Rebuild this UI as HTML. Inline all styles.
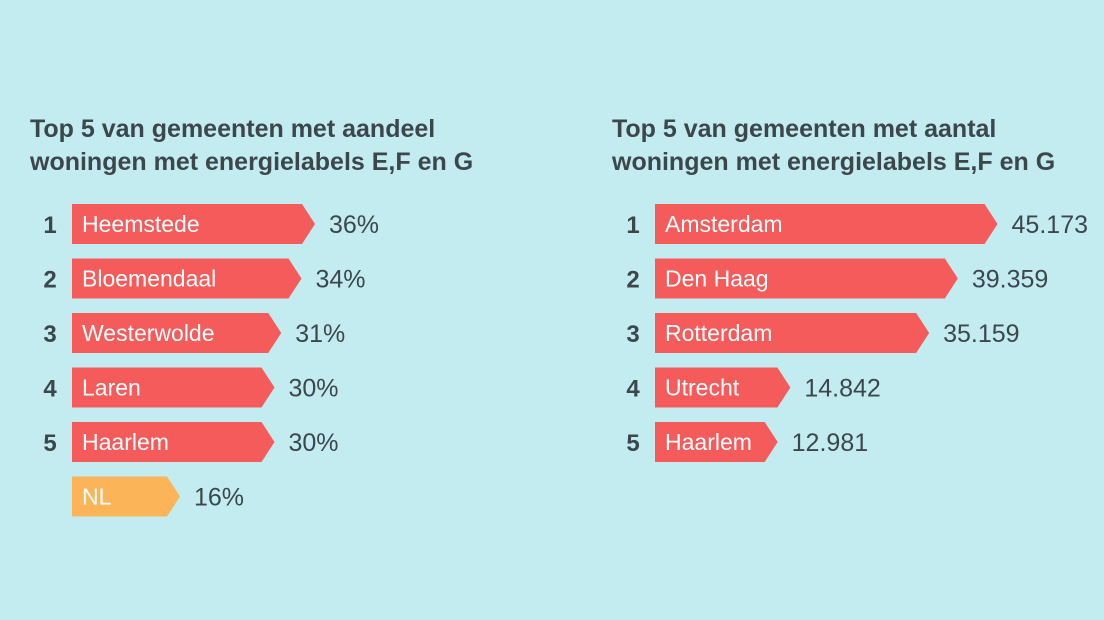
<!DOCTYPE html>
<html><head><meta charset="utf-8">
<style>
body{margin:0;width:1104px;height:620px;background:#c3ecf0;font-family:"Liberation Sans",sans-serif;overflow:hidden}
.t{position:absolute;font-weight:bold;font-size:25px;line-height:33px;color:#3c474c;white-space:nowrap}
svg{position:absolute;left:0;top:0}
</style></head><body>
<div class="t" style="left:30px;top:113px">Top 5 van gemeenten met aandeel<br>woningen met energielabels E,F en G</div>
<div class="t" style="left:612px;top:113px">Top 5 van gemeenten met aantal<br>woningen met energielabels E,F en G</div>
<svg width="1104" height="620" id="c"></svg>
<script>
const leftNames=["Heemstede","Bloemendaal","Westerwolde","Laren","Haarlem","NL"];
const leftValues=[36,34,31,30,30,16];
const leftLabels=["36%","34%","31%","30%","30%","16%"];
const leftRanks=["1","2","3","4","5",""];
const rightNames=["Amsterdam","Den Haag","Rotterdam","Utrecht","Haarlem"];
const rightValues=[45.173,39.359,35.159,14.842,12.981];
const rightLabels=["45.173","39.359","35.159","14.842","12.981"];
const rightRanks=["1","2","3","4","5"];
const svg=document.getElementById('c');const NS="http://www.w3.org/2000/svg";
function mk(t,a){const e=document.createElementNS(NS,t);for(const k in a)e.setAttribute(k,a[k]);svg.appendChild(e);return e;}
function chart(names,vals,labels,ranks,x0,rankX,scale,side){
 names.forEach((n,i)=>{
  const y=204+i*54.5,h=40,len=scale(vals[i]),tip=x0+len,b=tip-13;
  const col=n==="NL"?"#fcb459":"#f45b5a";
  const p=mk('polygon',{points:`${x0},${y} ${b},${y} ${tip},${y+h/2} ${b},${y+h} ${x0},${y+h}`,fill:col});
  
  
  const tn=mk('text',{x:x0+10,y:y+28,fill:'#fff','font-size':23});tn.textContent=n;
  
  
  const tv=mk('text',{x:tip+14,y:y+29,fill:'#3c474c','font-size':25});tv.textContent=labels[i];
  
  
  if(ranks[i]){const tr=mk('text',{x:rankX,y:y+29,fill:'#3c474c','font-size':24,'font-weight':'bold','text-anchor':'middle'});tr.textContent=ranks[i];
  
  }
 });
}
chart(leftNames,leftValues,leftLabels,leftRanks,72,50,v=>v*6.75,'left');
chart(rightNames,rightValues,rightLabels,rightRanks,655,633,v=>34+v*6.83,'right');
</script>
</body></html>
